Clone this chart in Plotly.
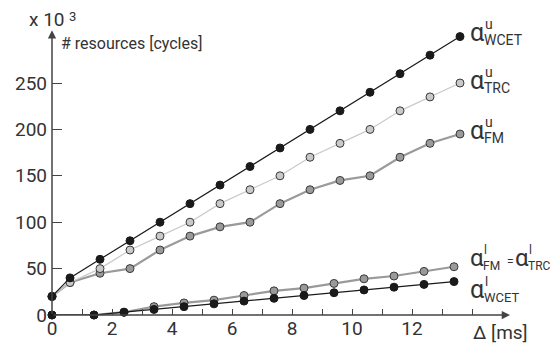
import plotly.graph_objects as go

# ---- data ----
x_upper = [0, 0.6, 1.6, 2.6, 3.6, 4.6, 5.6, 6.6, 7.6, 8.6, 9.6, 10.6, 11.6, 12.6, 13.6]
wcet_upper = [20, 40, 60, 80, 100, 120, 140, 160, 180, 200, 220, 240, 260, 280, 300]
trc_upper = [20, 35, 50, 70, 85, 100, 120, 135, 150, 170, 185, 200, 220, 235, 250]
fm_upper = [20, 35, 45, 50, 70, 85, 95, 100, 120, 135, 145, 150, 170, 185, 195]

x_lower = [0, 1.4, 2.4, 3.4, 4.4, 5.4, 6.4, 7.4, 8.4, 9.4, 10.4, 11.4, 12.4, 13.4]
wcet_lower = [0, 0, 3, 6, 9, 12, 15, 18, 21, 24, 27, 30, 33, 36]
fmtrc_lower = [0, 0, 3, 9, 13, 16, 21, 26, 29, 34, 39, 42, 47, 52]

x_tick_vals = list(range(0, 15))
x_tick_text = ["0", "", "2", "", "4", "", "6", "", "8", "", "10", "", "12", "", ""]
y_tick_vals = [0, 50, 100, 150, 200, 250]
y_tick_text = ["0", "50", "100", "150", "200", "250"]

# ---- layout geometry (page has an 8px body margin) ----
OFF = 8
W, H = 559, 349
PW, PH = 458, 283
L = 52 - OFF
T = 32 - OFF
R = W - L - PW
B = H - T - PH
X_MAX = PW / 30.0
Y_MAX = PH / 0.928

FONT = "Roboto"
TXT = "#333333"


def px(xp):
    return (xp - 52) / PW


def py(yp):
    return (315 - yp) / PH


fig = go.Figure()

GRAY = "#9a9a9a"
LIGHT = "#c9c9c9"
BLACK = "#1a1a1a"
EDGE = "#3a3a3a"

fig.add_trace(go.Scatter(x=x_lower, y=fmtrc_lower, mode="lines+markers",
                         line=dict(color=GRAY, width=2.2),
                         marker=dict(size=8, color=GRAY, line=dict(color=EDGE, width=1)),
                         cliponaxis=False))
fig.add_trace(go.Scatter(x=x_lower, y=wcet_lower, mode="lines+markers",
                         line=dict(color=BLACK, width=1.2),
                         marker=dict(size=8, color=BLACK, line=dict(color=BLACK, width=1)),
                         cliponaxis=False))
fig.add_trace(go.Scatter(x=x_upper, y=fm_upper, mode="lines+markers",
                         line=dict(color=GRAY, width=2.2),
                         marker=dict(size=8, color=GRAY, line=dict(color=EDGE, width=1)),
                         cliponaxis=False))
fig.add_trace(go.Scatter(x=x_upper, y=trc_upper, mode="lines+markers",
                         line=dict(color=LIGHT, width=1.2),
                         marker=dict(size=8, color=LIGHT, line=dict(color=EDGE, width=1)),
                         cliponaxis=False))
fig.add_trace(go.Scatter(x=x_upper, y=wcet_upper, mode="lines+markers",
                         line=dict(color=BLACK, width=1.2),
                         marker=dict(size=8, color=BLACK, line=dict(color=BLACK, width=1)),
                         cliponaxis=False))

annotations = []
# axis arrows
annotations.append(dict(x=X_MAX, y=0, ax=0, ay=0, xref="x", yref="y", axref="x", ayref="y",
                        text="", showarrow=True, arrowhead=2, arrowsize=1.1, arrowwidth=1.5,
                        arrowcolor="#444444"))
annotations.append(dict(x=0, y=Y_MAX + 2, ax=0, ay=0, xref="x", yref="y", axref="x", ayref="y",
                        text="", showarrow=True, arrowhead=2, arrowsize=1.1, arrowwidth=1.5,
                        arrowcolor="#444444"))


def txt(s, xp, yp, size, anchor="left"):
    annotations.append(dict(x=px(xp), y=py(yp), xref="paper", yref="paper", text=s,
                            showarrow=False, xanchor=anchor, yanchor="middle",
                            font=dict(family=FONT, size=size, color=TXT)))


txt("x 10", 27, 20, 19)
txt("3", 67, 16, 13)
txt("# resources [cycles]", 59, 44, 16)
txt("Δ [ms]", 471, 332, 19)


def alpha(xp, yc, sup, sub, sub_dx=14, size=14, asize=25):
    txt("α", xp, yc, asize)
    txt(sup, xp + sub_dx + 1, yc - 8, size)
    txt(sub, xp + sub_dx, yc + 8, size)


alpha(468, 32, "u", "WCET")
alpha(468, 80, "u", "TRC")
alpha(468, 130, "u", "FM")
alpha(468, 258, "l", "FM", sub_dx=13, size=12, asize=24)
txt("=", 505, 262, 12)
alpha(513, 258, "l", "TRC", sub_dx=13, size=12, asize=24)
alpha(468, 289, "l", "WCET", size=13)

fig.update_layout(
    width=W, height=H,
    margin=dict(l=L, r=R, t=T, b=B, pad=0, autoexpand=False),
    paper_bgcolor="white", plot_bgcolor="white",
    showlegend=False,
    annotations=annotations,
    xaxis=dict(range=[0, X_MAX], showgrid=False, zeroline=False, showline=False,
               tickmode="array", tickvals=x_tick_vals, ticktext=x_tick_text,
               ticks="inside", ticklen=6, tickwidth=1.2, tickcolor="#444444",
               tickfont=dict(family=FONT, size=19, color=TXT), ticklabelstandoff=0),
    yaxis=dict(range=[0, Y_MAX], showgrid=False, zeroline=False, showline=False,
               tickmode="array", tickvals=y_tick_vals, ticktext=y_tick_text,
               ticks="inside", ticklen=10, tickwidth=1.2, tickcolor="#444444",
               tickfont=dict(family=FONT, size=19, color=TXT), ticklabelstandoff=4),
)

fig.write_html("out.html")
